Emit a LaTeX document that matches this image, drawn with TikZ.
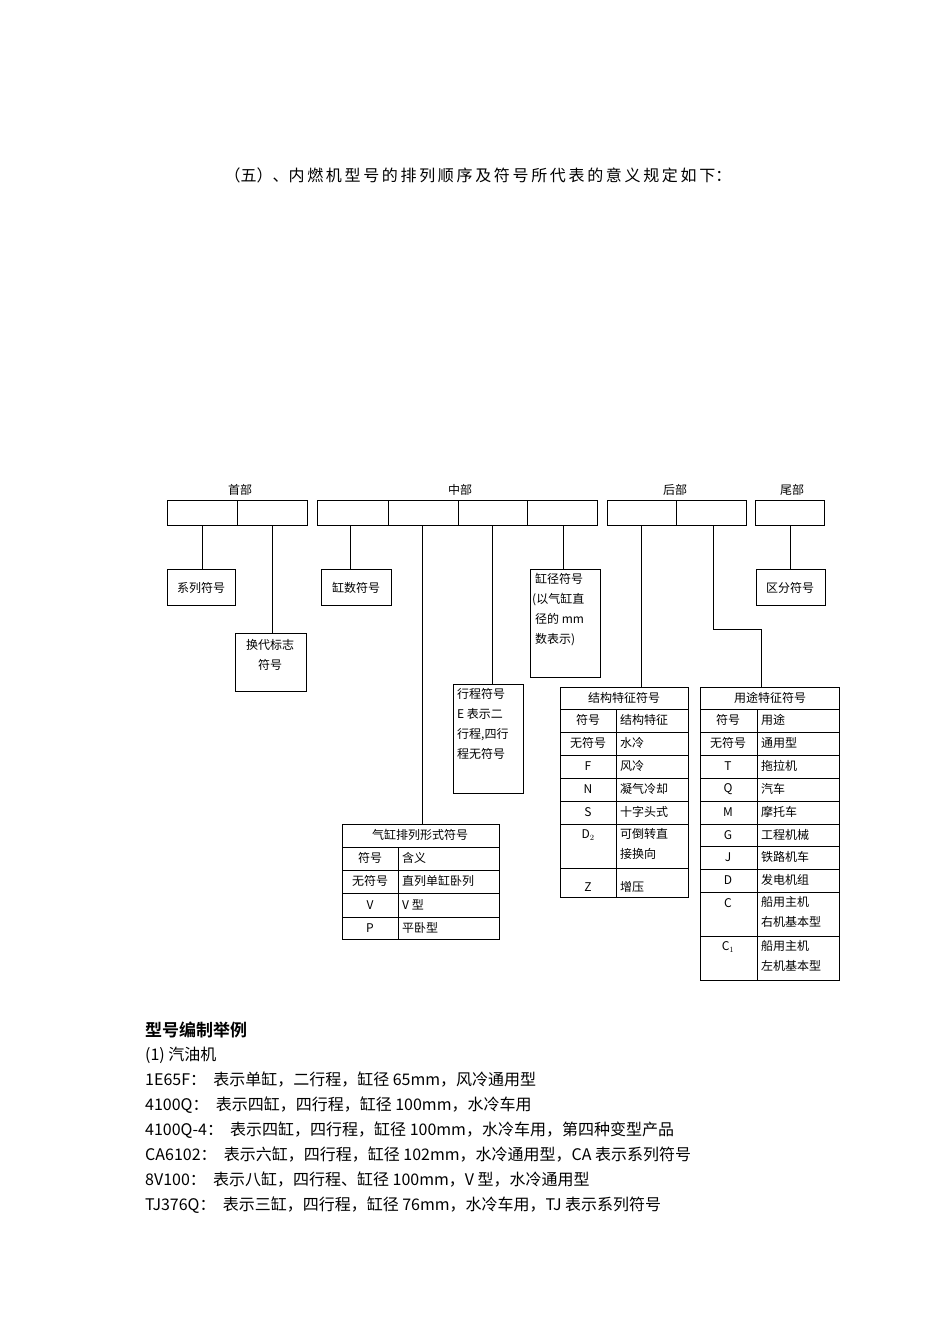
\documentclass[tikz,border=0pt]{standalone}
\usepackage{fontspec}
\newfontfamily\cjk[BoldFont={Noto Sans CJK SC Bold}]{Noto Sans CJK SC}
\begin{document}
\begin{tikzpicture}[x=1pt,y=-1pt,
  bx/.style={draw,line width=0.8pt},
  ln/.style={draw,line width=0.7pt},
  ct/.style={font=\cjk\fontsize{12}{14}\selectfont,inner sep=0pt},
  body/.style={font=\cjk\fontsize{16}{18}\selectfont,anchor=west,inner sep=0pt}]
\useasboundingbox[fill=white] (0,0) rectangle (950,1344);
\node[font=\cjk\fontsize{16}{18}\selectfont] (title) at (478,175) {（五）、内\,燃\,机\,型\,号\,的\,排\,列\,顺\,序\,及\,符\,号\,所\,代\,表\,的\,意\,义\,规\,定\,如\,下：};
% top boxes
\draw[bx] (167,500) rectangle (307,525); \draw[bx] (237,500)--(237,525);
\draw[bx] (317,500) rectangle (597,525); \foreach \x in {388,458,527} \draw[bx] (\x,500)--(\x,525);
\draw[bx] (607,500) rectangle (746,525); \draw[bx] (676,500)--(676,525);
\draw[bx] (755,500) rectangle (824,525);
\node[ct] (h1) at (240,490) {首部};
\node[ct] (h2) at (460,490) {中部};
\node[ct] (h3) at (675,490) {后部};
\node[ct] (h4) at (792,490) {尾部};
% boxes
\draw[bx] (167,569) rectangle (235,605); \node[ct] (b1) at (201,588) {系列符号};
\draw[bx] (235,633) rectangle (306,691); \node[ct,align=center] (b2) at (270,655) {换代标志\\[6pt]符号};
\draw[bx] (321,569) rectangle (391,605); \node[ct] (b3) at (356,588) {缸数符号};
\draw[bx] (530,569) rectangle (600,677);
\node[ct,align=left,anchor=north west] (b4) at (532,573) {\hspace*{3pt}缸径符号\\[6pt](以气缸直\\[6pt]\hspace*{3pt}径的 mm\\[6pt]\hspace*{3pt}数表示)};
\draw[bx] (453,684) rectangle (523,793);
\node[ct,align=left,anchor=north west] (b5) at (457,688) {行程符号\\[6pt]E 表示二\\[6pt]行程,四行\\[6pt]程无符号};
\draw[bx] (756,569) rectangle (825,605); \node[ct] (b6) at (790,588) {区分符号};
% connectors
\draw[ln] (202,525)--(202,569);
\draw[ln] (272,525)--(272,633);
\draw[ln] (350,525)--(350,569);
\draw[ln] (422,525)--(422,824);
\draw[ln] (492,525)--(492,684);
\draw[ln] (563,525)--(563,569);
\draw[ln] (641,525)--(641,687);
\draw[ln] (713,525)--(713,629)--(761,629)--(761,687);
\draw[ln] (790,525)--(790,569);
% cylinder table
\draw[bx] (342,824) rectangle (499,939);
\foreach \y in {847,870,893,917} \draw[bx] (342,\y)--(499,\y);
\draw[bx] (398,847)--(398,939);
\node[ct] (c0) at (420,835) {气缸排列形式符号};
\foreach \y/\a/\b in {858/符号/含义,881/无符号/直列单缸卧列,905/V/V 型,928/P/平卧型}{
  \node[ct] at (370,\y) {\a}; \node[ct,anchor=west] at (402,\y) {\b};}
% structure table
\draw[bx] (560,687) rectangle (688,897);
\foreach \y in {709,732,755,778,801,824,868} \draw[bx] (560,\y)--(688,\y);
\draw[bx] (616,709)--(616,897);
\node[ct] (s0) at (624,698) {结构特征符号};
\foreach \y/\a/\b in {720/符号/结构特征,743/无符号/水冷,766/F/风冷,789/N/凝气冷却,812/S/十字头式,887/Z/增压}{
  \node[ct] at (588,\y) {\a}; \node[ct,anchor=west] at (620,\y) {\b};}
\node[ct] at (588,835) {D$_2$};
\node[ct,anchor=north west,align=left] at (620,828) {可倒转直\\[6pt]接换向};
% use table
\draw[bx] (700,687) rectangle (839,980);
\foreach \y in {709,732,755,778,801,824,846,869,892,936} \draw[bx] (700,\y)--(839,\y);
\draw[bx] (757,709)--(757,980);
\node[ct] (u0) at (770,698) {用途特征符号};
\foreach \y/\a/\b in {720/符号/用途,743/无符号/通用型,766/T/拖拉机,789/Q/汽车,812/M/摩托车,835/G/工程机械,857/J/铁路机车,880/D/发电机组}{
  \node[ct] at (728,\y) {\a}; \node[ct,anchor=west] at (761,\y) {\b};}
\node[ct] at (728,903) {C}; \node[ct,anchor=north west,align=left] at (761,896) {船用主机\\[6pt]右机基本型};
\node[ct] at (728,947) {C$_1$}; \node[ct,anchor=north west,align=left] at (761,940) {船用主机\\[6pt]左机基本型};
% bottom text
\node[body,font=\cjk\bfseries\fontsize{17}{19}\selectfont] (t0) at (145,1030) {型号编制举例};
\node[body] (t1) at (145,1055) {(1) 汽油机};
\node[body] (t2) at (145,1080) {1E65F：\ \ 表示单缸，二行程，缸径 65mm，风冷通用型};
\node[body] (t3) at (145,1105) {4100Q：\ \ 表示四缸，四行程，缸径 100mm，水冷车用};
\node[body] (t4) at (145,1130) {4100Q-4：\ \ 表示四缸，四行程，缸径 100mm，水冷车用，第四种变型产品};
\node[body] (t5) at (145,1155) {CA6102：\ \ 表示六缸，四行程，缸径 102mm，水冷通用型，CA 表示系列符号};
\node[body] (t6) at (145,1180) {8V100：\ \ 表示八缸，四行程、缸径 100mm，V 型，水冷通用型};
\node[body] (t7) at (145,1205) {TJ376Q：\ \ 表示三缸，四行程，缸径 76mm，水冷车用，TJ 表示系列符号};
\end{tikzpicture}
\end{document}
